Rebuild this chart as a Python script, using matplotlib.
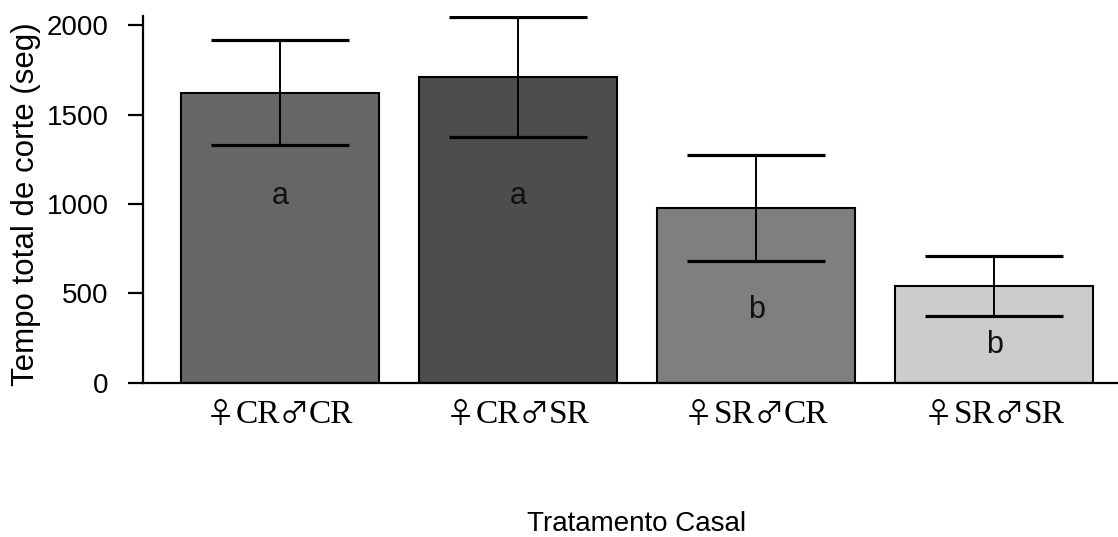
import numpy as np
import matplotlib.pyplot as plt
from matplotlib.offsetbox import TextArea, HPacker, AnnotationBbox

# mean total cutting time per couple treatment, with error bars
female = "♀"
male = "♂"
female_group = ["CR", "CR", "SR", "SR"]
male_group = ["CR", "SR", "CR", "SR"]
mean_time = [1622, 1711, 975, 542]
err_time = [294, 336, 296, 168]
letters = ["a", "a", "b", "b"]
letter_y = [1045, 1045, 408, 212]
bar_colors = ["#666666", "#4d4d4d", "#7f7f7f", "#cccccc"]

sans = ["Liberation Sans", "DejaVu Sans"]
serif = ["Liberation Serif", "DejaVu Serif"]

fig = plt.figure(figsize=(11.18, 5.37), dpi=100)
ax = fig.add_axes([0.128, 0.287, 0.872, 0.683])

x = np.arange(len(mean_time))
ax.bar(x, mean_time, width=0.83, color=bar_colors, edgecolor="black", linewidth=1.5, zorder=2)
ax.errorbar(
    x,
    mean_time,
    yerr=err_time,
    fmt="none",
    ecolor="black",
    elinewidth=1.4,
    capsize=50,
    capthick=2.3,
    zorder=3,
)

for xi, lab, ly in zip(x, letters, letter_y):
    ax.text(xi, ly, lab, ha="center", va="center", fontsize=22, family=sans, color="#111111", zorder=4)

ax.set_xlim(-0.574, 3.52)
ax.set_ylim(0, 2050)

# R-style axes: only left and bottom lines
ax.spines["right"].set_visible(False)
ax.spines["top"].set_visible(False)
for side in ["left", "bottom"]:
    ax.spines[side].set_linewidth(1.6)

ax.set_yticks([0, 500, 1000, 1500, 2000])
ax.set_yticklabels(["0", "500", "1000", "1500", "2000"], family=sans, fontsize=20)
ax.tick_params(axis="y", length=11, width=1.6, pad=14)

# category labels: thin sex symbols plus serif group codes
ax.set_xticks(x)
ax.set_xticklabels([])
ax.tick_params(axis="x", length=0)
sym_props = dict(family=["Noto Sans CJK JP", "DejaVu Sans"], size=21, color="black")
txt_props = dict(family=serif, size=24, color="black")
for xi, fg, mg in zip(x, female_group, male_group):
    parts = [
        TextArea(female, textprops=sym_props),
        TextArea(fg, textprops=txt_props),
        TextArea(male, textprops=sym_props),
        TextArea(mg, textprops=txt_props),
    ]
    pack = HPacker(children=parts, align="baseline", pad=0, sep=0)
    ab = AnnotationBbox(
        pack,
        (xi, 0),
        xycoords=ax.get_xaxis_transform(),
        xybox=(0, -12),
        boxcoords="offset points",
        box_alignment=(0.5, 1),
        frameon=False,
    )
    ax.add_artist(ab)

ax.set_ylabel("Tempo total de corte (seg)", family=sans, fontsize=22.5)
ax.yaxis.set_label_coords(-0.105, 0.488)
fig.text(0.569, 0.0, "Tratamento Casal", family=sans, fontsize=20, ha="center", va="bottom")

fig.savefig("out.png", dpi=100)
